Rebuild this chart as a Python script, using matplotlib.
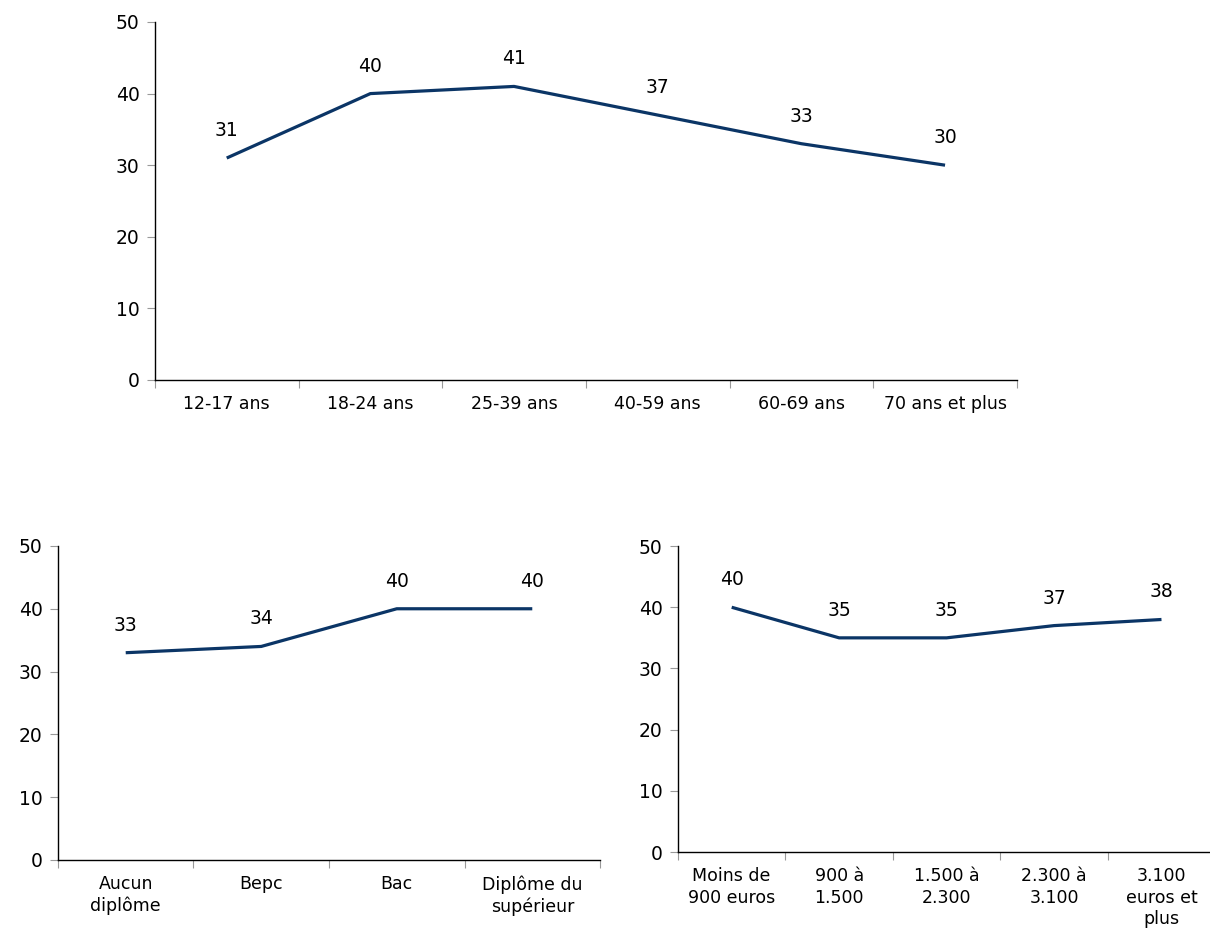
import numpy as np
import matplotlib.pyplot as plt

plt.rcParams.update({
    "font.family": "DejaVu Sans",
    "axes.linewidth": 1.0,
    "xtick.color": "#999999",
    "ytick.color": "#999999",
    "xtick.labelcolor": "black",
    "ytick.labelcolor": "black",
})

age_labels = ["12-17 ans", "18-24 ans", "25-39 ans", "40-59 ans", "60-69 ans", "70 ans et plus"]
age_values = [31, 40, 41, 37, 33, 30]

diploma_labels = ["Aucun\ndiplôme", "Bepc", "Bac", "Diplôme du\nsupérieur"]
diploma_values = [33, 34, 40, 40]

income_labels = ["Moins de\n900 euros", "900 à\n1.500", "1.500 à\n2.300", "2.300 à\n3.100", "3.100\neuros et\nplus"]
income_values = [40, 35, 35, 37, 38]

line_color = "#0b3566"


def draw(ax, labels, values):
    n = len(labels)
    x = np.arange(n) + 0.5
    ax.plot(x, values, color=line_color, linewidth=2.3, solid_capstyle="butt")
    for xi, v in zip(x, values):
        ax.annotate(str(v), (xi, v), xytext=(0, 13), textcoords="offset points",
                    ha="center", va="bottom", fontsize=13.5)
    ax.set_xlim(0, n)
    ax.set_ylim(0, 50)
    ax.set_yticks([0, 10, 20, 30, 40, 50])
    ax.set_xticks(np.arange(n + 1))
    ax.set_xticklabels([])
    ax.set_xticks(x, minor=True)
    ax.set_xticklabels(labels, minor=True, fontsize=12.5, linespacing=1.25)
    ax.tick_params(axis="x", which="major", length=6, direction="out")
    ax.tick_params(axis="x", which="minor", length=0, pad=11)
    ax.tick_params(axis="y", length=6, labelsize=13.5, pad=5)
    for s in ["top", "right"]:
        ax.spines[s].set_visible(False)
    ax.spines["left"].set_color("black")
    ax.spines["bottom"].set_color("black")


fig = plt.figure(figsize=(12.1, 9.32), dpi=100)
ax1 = fig.add_axes([0.128, 0.5923, 0.7124, 0.3841])
ax2 = fig.add_axes([0.0479, 0.0773, 0.448, 0.3369])
ax3 = fig.add_axes([0.5603, 0.0858, 0.444, 0.3283])

draw(ax1, age_labels, age_values)
draw(ax2, diploma_labels, diploma_values)
draw(ax3, income_labels, income_values)

fig.savefig("out.png", dpi=100)
